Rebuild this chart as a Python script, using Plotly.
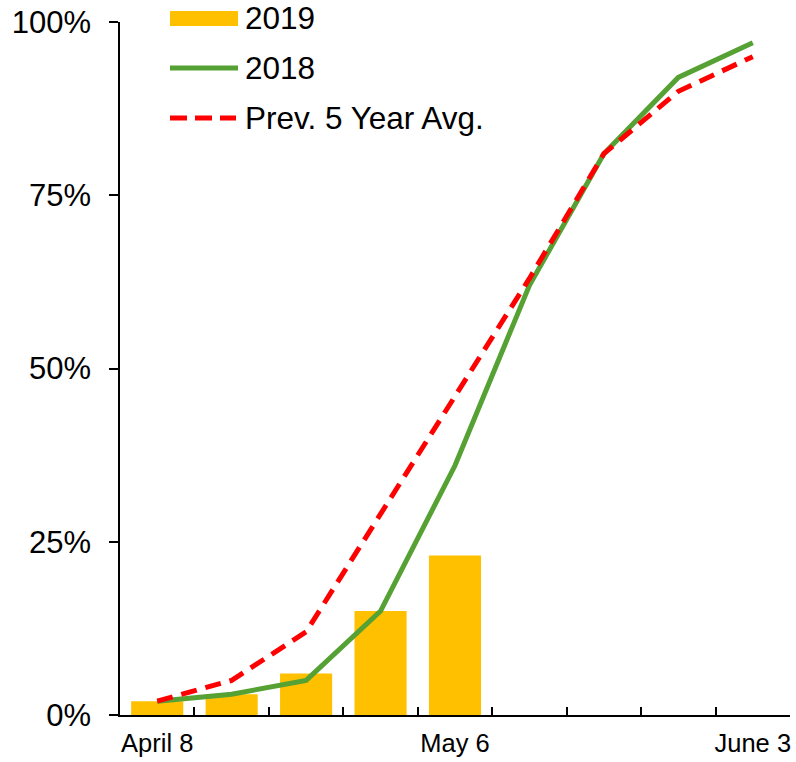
import plotly.graph_objects as go

weeks = ["April 8", "April 15", "April 22", "April 29", "May 6",
         "May 13", "May 20", "May 27", "June 3"]
week_labels = ["April 8", "", "", "", "May 6", "", "", "", "June 3"]
y2019 = [0.02, 0.03, 0.06, 0.15, 0.23]
y2018 = [0.02, 0.03, 0.05, 0.15, 0.36, 0.62, 0.81, 0.92, 0.97]
avg5 = [0.02, 0.05, 0.12, 0.29, 0.46, 0.63, 0.81, 0.90, 0.95]
y_ticks = [0, 0.25, 0.5, 0.75, 1.0]

legend_names = ["2019", "2018", "Prev. 5 Year Avg."]
c_bar = "#FFC000"
c_green = "#56A133"
c_red = "#FF0000"
FONT = "Liberation Sans, Arial, sans-serif"

fig = go.Figure()
fig.add_trace(go.Bar(x=weeks[:len(y2019)], y=y2019, marker=dict(color=c_bar, line_width=0),
                     name=legend_names[0], showlegend=False))
fig.add_trace(go.Scatter(x=weeks, y=y2018, mode="lines", line=dict(color=c_green, width=5),
                         name=legend_names[1], showlegend=False))
fig.add_trace(go.Scatter(x=weeks, y=avg5, mode="lines",
                         line=dict(color=c_red, width=5, dash="16px,9px"),
                         name=legend_names[2], showlegend=False))

W, H = 796, 762
# plot area in page pixels: x 120..790, y 22..715
ml = 120
mr = W - 790
mt = 22
mb = H - 715
pw, ph = W - ml - mr, H - mt - mb

def px(xp):
    return (xp - ml) / pw

def py(yp):
    return (H - mb - yp) / ph

shapes = [
    dict(type="rect", xref="paper", yref="paper", x0=px(170), x1=px(238), y0=py(26), y1=py(11),
         fillcolor=c_bar, line_width=0, layer="above"),
    dict(type="line", xref="paper", yref="paper", x0=px(170), x1=px(238), y0=py(68), y1=py(68),
         line=dict(color=c_green, width=5), layer="above"),
    dict(type="line", xref="paper", yref="paper", x0=px(170), x1=px(236), y0=py(118), y1=py(118),
         line=dict(color=c_red, width=5, dash="17px,8px"), layer="above"),
]
annotations = []
for name, yc in zip(legend_names, [18, 68, 118]):
    annotations.append(dict(text=name, xref="paper", yref="paper", x=px(243), y=py(yc),
                            xanchor="left", yanchor="middle", showarrow=False,
                            font=dict(size=31.5, color="#000", family=FONT)))

fig.update_layout(
    width=W, height=H,
    margin=dict(l=ml, r=mr, t=mt, b=mb, pad=0, autoexpand=False),
    plot_bgcolor="white", paper_bgcolor="white",
    bargap=0.3,
    font=dict(family=FONT, color="#000"),
    shapes=shapes, annotations=annotations,
    showlegend=False,
)
fig.update_xaxes(
    type="category", categoryorder="array", categoryarray=weeks,
    tickmode="array", tickvals=weeks, ticktext=week_labels, tickson="boundaries",
    ticks="inside", ticklen=8, tickwidth=1.5, tickcolor="#000", tickangle=0,
    showline=True, linecolor="#000", linewidth=1.5, showgrid=False, zeroline=False,
    tickfont=dict(size=25.5, family=FONT, color="#000"), automargin=False,
    range=[-0.5, 8.5], ticklabelstandoff=5, ticklabeloverflow="allow",
)
fig.update_yaxes(
    range=[0, 1], tickmode="array", tickvals=y_ticks, tickformat=".0%",
    ticks="outside", ticklen=9, tickwidth=1.5, tickcolor="#000",
    showline=True, linecolor="#000", linewidth=1.5, showgrid=False, zeroline=False,
    tickfont=dict(size=31, family=FONT, color="#000"), ticklabelstandoff=12, automargin=False,
    ticklabeloverflow="allow",
)

fig.write_html(
    "out.html",
    config={"displayModeBar": False},
    post_script="document.body.style.margin='0';document.body.style.overflow='hidden';",
)
